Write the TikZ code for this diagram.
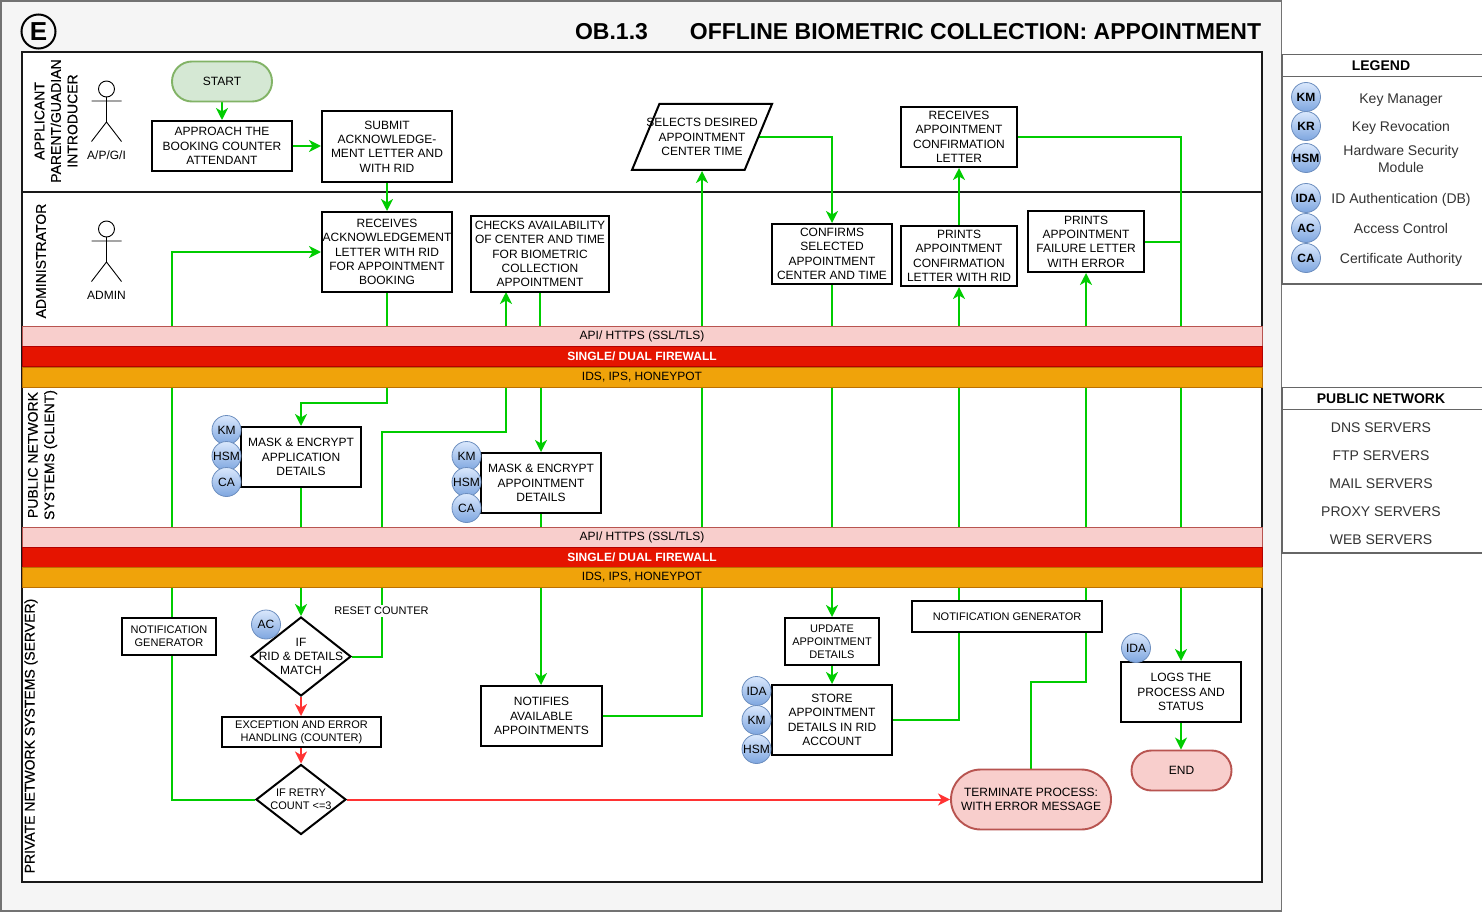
\documentclass[tikz,border=0pt]{standalone}
\usepackage{fontspec}
\setmainfont{Liberation Sans}
\newfontfamily\lanefont[FakeBold=0.3]{Liberation Sans}
\usetikzlibrary{arrows.meta,shapes.geometric,calc}
\pgfdeclarelayer{under}
\pgfdeclarelayer{links}
\pgfsetlayers{under,links,main}
\definecolor{flowg}{HTML}{00CC00}
\definecolor{flowr}{HTML}{FF3333}
\definecolor{secstroke}{HTML}{6C8EBF}
\definecolor{sectop}{HTML}{DAE8FC}
\definecolor{secbot}{HTML}{7EA6E0}
\definecolor{pinkfill}{HTML}{F8CECC}
\definecolor{pinkline}{HTML}{B85450}
\definecolor{redfill}{HTML}{E51400}
\definecolor{redline}{HTML}{B20000}
\definecolor{orafill}{HTML}{F0A30A}
\definecolor{oraline}{HTML}{BD7000}
\definecolor{grnfill}{HTML}{D5E8D4}
\definecolor{grnline}{HTML}{82B366}
\newcommand{\bt}[1]{\raisebox{-.7pt}{#1}}
\tikzset{
  x=1pt,y=-1pt,
  txt/.style={font=\fontsize{12}{14.4}\selectfont,align=center,text=black,inner sep=0pt},
  smalltxt/.style={font=\fontsize{11}{13}\selectfont},
  bx/.style={txt,draw=black,line width=2pt,fill=white},
  pill/.style={txt,line width=1.9pt},
  dia/.style={shape=diamond,draw=black,line width=2pt,fill=white,inner sep=0pt},
  sec/.style={shape=circle,minimum size=29pt,inner sep=0pt,draw=secstroke,line width=.8pt,top color=sectop,bottom color=secbot,font=\fontsize{12}{14}\selectfont,text=black},
  secb/.style={sec,font=\bfseries\fontsize{12}{14}\selectfont},
  flow/.style={draw=flowg,line width=2pt,-{Stealth[length=12pt,width=12pt,inset=3.5pt]}},
  flowp/.style={draw=flowg,line width=2pt},
  redf/.style={draw=flowr,line width=2pt,-{Stealth[length=12pt,width=12pt,inset=3.5pt]}},
  band/.style={shape=rectangle,minimum width=1240pt,minimum height=20pt,inner sep=0pt,line width=.9pt,font=\fontsize{12}{14}\selectfont},
  bandp/.style={band,draw=pinkline,fill=pinkfill},
  bandr/.style={band,draw=redline,fill=redfill,text=white,font=\bfseries\fontsize{12}{14}\selectfont},
  bando/.style={band,draw=oraline,fill=orafill},
  lane/.style={rotate=90,font=\lanefont\fontsize{14}{16.5}\selectfont,align=center,inner sep=0pt,text=black},
  actor/.style={draw=black,line width=.9pt},
  leg/.style={font=\fontsize{14}{17}\selectfont,align=center,text=black!80,inner sep=0pt},
  legh/.style={font=\bfseries\fontsize{14}{17}\selectfont,inner sep=0pt},
  panel/.style={draw=black!60,line width=1.4pt,fill=white},
}
\newcommand{\bxn}[7][]{%
  \pgfmathsetmacro\cxx{(#3+#5)/2}\pgfmathsetmacro\cyy{(#4+#6)/2}%
  \pgfmathsetmacro\ww{#5-#3}\pgfmathsetmacro\hh{#6-#4}%
  \node[bx,#1,minimum width=\ww pt,minimum height=\hh pt] (#2) at (\cxx,\cyy) {#7};}
\begin{document}
\begin{tikzpicture}
\useasboundingbox (0,0) rectangle (1482,912);
\begin{pgfonlayer}{under}
\fill[white] (0,0) rectangle (1482,912);
\draw[draw=black!55,line width=1.6pt,fill=black!4] (1,1) rectangle (1281.5,911);
\draw[black!90,line width=2pt,fill=white] (22,52) rectangle (1262,882);
\draw[black!90,line width=2pt] (22,192) -- (1262,192);
\end{pgfonlayer}

% header
\node[shape=circle,draw=black,line width=2pt,minimum size=34pt,inner sep=0pt,font=\bfseries\fontsize{26}{26}\selectfont] (ecirc) at (38.5,31.5) {E};
\node[font=\bfseries\fontsize{23}{26}\selectfont,inner sep=0pt] (obno) at (611.5,31.5) {OB.1.3};
\node[font=\bfseries\fontsize{23}{26}\selectfont,inner sep=0pt] (obtitle) at (975.5,31.5) {OFFLINE BIOMETRIC COLLECTION: APPOINTMENT};

% lane labels
\node[lane] (laneA) at (56,121) {APPLICANT\\PARENT/GUADIAN\\INTRODUCER};
\node[lane] (laneB) at (41,261) {ADMINISTRATOR};
\node[lane] (laneC) at (42.5,455) {PUBLIC NETWORK\\SYSTEMS (CLIENT)};
\node[lane] (laneD) at (31,736) {PRIVATE NETWORK SYSTEMS (SERVER)};

% actors
\draw[actor] (106.5,89) circle (8);
\draw[actor] (91.5,101) -- (121.5,101) (106.5,97) -- (106.5,122) (91.5,141.5) -- (106.5,122) -- (121.5,141.5);
\node[txt] (actA) at (106.5,155) {A/P/G/I};
\draw[actor] (106.5,229) circle (8);
\draw[actor] (91.5,241) -- (121.5,241) (106.5,237) -- (106.5,262) (91.5,281.5) -- (106.5,262) -- (121.5,281.5);
\node[txt] (actB) at (106.5,295) {ADMIN};

% bands
\node[bandp] (b1) at (642,336) {\bt{API/ HTTPS (SSL/TLS)}};
\node[bandr] (b2) at (642,356.5) {SINGLE/ DUAL FIREWALL};
\node[bando] (b3) at (642,377) {IDS, IPS, HONEYPOT};
\node[bandp] (b4) at (642,537) {\bt{API/ HTTPS (SSL/TLS)}};
\node[bandr] (b5) at (642,557.5) {\bt{SINGLE/ DUAL FIREWALL}};
\node[bando] (b6) at (642,577.5) {\bt{IDS, IPS, HONEYPOT}};

% process nodes
\node[pill,draw=grnline,fill=grnfill,minimum width=100pt,minimum height=40pt,rounded corners=19.9pt] (start) at (222,81.5) {START};
\bxn{appr}{152}{121}{292}{171}{APPROACH THE\\BOOKING COUNTER\\ATTENDANT}
\bxn{subm}{322}{111}{452}{182}{SUBMIT\\ACKNOWLEDGE-\\MENT LETTER AND\\WITH RID}
\bxn{rcv}{322}{212}{452}{292}{RECEIVES\\ACKNOWLEDGEMENT\\LETTER WITH RID\\FOR APPOINTMENT\\BOOKING}
\bxn{chk}{471}{216}{609}{292}{CHECKS AVAILABILITY\\OF CENTER AND TIME\\FOR BIOMETRIC\\COLLECTION\\APPOINTMENT}
\node[shape=trapezium,trapezium left angle=73.1,trapezium right angle=106.9,trapezium stretches=true,draw=black,line width=2pt,fill=white,minimum width=140pt,minimum height=66pt,inner sep=0pt,label={[txt]center:SELECTS DESIRED\\APPOINTMENT\\CENTER TIME}] (sel) at (702,137) {\phantom{x}};
\bxn{conf}{772}{224}{892}{284}{CONFIRMS\\SELECTED\\APPOINTMENT\\CENTER AND TIME}
\bxn{rconf}{901}{107}{1017}{167}{RECEIVES\\APPOINTMENT\\CONFIRMATION\\LETTER}
\bxn{pconf}{901}{226}{1017}{286}{PRINTS\\APPOINTMENT\\CONFIRMATION\\LETTER WITH RID}
\bxn{fail}{1028}{211}{1144}{272}{PRINTS\\APPOINTMENT\\FAILURE LETTER\\WITH ERROR}
\bxn{mone}{241}{427}{361}{487}{MASK \& ENCRYPT\\APPLICATION\\DETAILS}
\bxn{mtwo}{481}{453}{601}{513}{MASK \& ENCRYPT\\APPOINTMENT\\DETAILS}
\bxn[smalltxt]{ngl}{122}{618}{216}{655}{NOTIFICATION\\GENERATOR}
\node[dia,minimum width=100pt,minimum height=79pt,label={[txt]center:IF\\RID \& DETAILS\\MATCH}] (ifm) at (301,656.5) {\phantom{x}};
\bxn[smalltxt]{exc}{222}{717}{381}{747}{EXCEPTION AND ERROR\\HANDLING (COUNTER)}
\node[dia,minimum width=90pt,minimum height=70pt,label={[txt,smalltxt]center:IF RETRY\\COUNT <=3}] (ret) at (301,799.5) {\phantom{x}};
\bxn{noti}{481}{686}{602}{746}{NOTIFIES\\AVAILABLE\\APPOINTMENTS}
\bxn[smalltxt]{upd}{785}{618}{879}{665}{UPDATE\\APPOINTMENT\\DETAILS}
\bxn{stor}{772}{685}{892}{755}{STORE\\APPOINTMENT\\DETAILS IN RID\\ACCOUNT}
\bxn[smalltxt]{ngr}{912}{601}{1102}{632}{NOTIFICATION GENERATOR}
\bxn{logs}{1121}{662}{1241}{722}{LOGS THE\\PROCESS AND\\STATUS}
\node[pill,draw=pinkline,fill=pinkfill,minimum width=100pt,minimum height=40pt,rounded corners=19.9pt] (endn) at (1181.5,770.5) {END};
\node[pill,draw=pinkline,fill=pinkfill,minimum width=160pt,minimum height=60pt,rounded corners=29.9pt] (term) at (1031,799.5) {TERMINATE PROCESS:\\WITH ERROR MESSAGE};
\node[txt,smalltxt,fill=white,inner xsep=1pt,inner ysep=2pt] (reset) at (381.5,611) {RESET COUNTER};

% security badges
\node[sec] (s1) at (226.5,430) {KM};
\node[sec] (s2) at (226.5,456) {HSM};
\node[sec] (s3) at (226.5,482) {CA};
\node[sec] (s4) at (466.5,456) {KM};
\node[sec] (s5) at (466.5,482) {HSM};
\node[sec] (s6) at (466.5,508) {CA};
\node[sec] (s7) at (266,624.5) {AC};
\node[sec] (s8) at (756.5,691) {IDA};
\node[sec] (s9) at (756.5,720) {KM};
\node[sec] (s10) at (756.5,749) {HSM};
\node[sec] (s11) at (1136,648) {IDA};

% legend
\draw[panel] (1282,54.5) rectangle (1490,284);
\draw[draw=black!60,line width=1.4pt] (1282,76.5) -- (1490,76.5);
\node[legh] (lhead) at (1381,65.5) {LEGEND};
\node[secb] (l1) at (1306,97) {KM};
\node[secb] (l2) at (1306,126) {KR};
\node[secb] (l3) at (1306,158) {HSM};
\node[secb] (l4) at (1306,198) {IDA};
\node[secb] (l5) at (1306,228) {AC};
\node[secb] (l6) at (1306,258) {CA};
\node[leg] (t1) at (1401,100) {Key Manager};
\node[leg] (t2) at (1401,127.5) {Key Revocation};
\node[leg] (t3) at (1401,159) {Hardware Security\\Module};
\node[leg] (t4) at (1401,199.5) {ID Authentication (DB)};
\node[leg] (t5) at (1401,228.5) {Access Control};
\node[leg] (t6) at (1401,259.5) {Certificate Authority};

% public network panel
\draw[panel] (1282,387.5) rectangle (1490,553);
\draw[draw=black!60,line width=1.4pt] (1282,409.5) -- (1490,409.5);
\node[legh] (phead) at (1381,399) {PUBLIC NETWORK};
\node[leg] (p1) at (1381,428) {DNS SERVERS};
\node[leg] (p2) at (1381,456) {FTP SERVERS};
\node[leg] (p3) at (1381,484) {MAIL SERVERS};
\node[leg] (p4) at (1381,512) {PROXY SERVERS};
\node[leg] (p5) at (1381,540) {WEB SERVERS};

% connectors
\coordinate (ca) at (382,432);
\coordinate (chkin) at (506,292);
\coordinate (cb2) at (172,252);
\begin{pgfonlayer}{links}
\draw[flow] (start.south) -- (appr.north -| start.south);
\draw[flow] (appr.east) -- (appr.east -| subm.west);
\draw[flow] (subm.south) -- (rcv.north);
\draw[flow] (ret.west) -| (cb2) -- (rcv.west);
\draw[flow] (rcv.south) -- ++(0,110) -| (mone.north);
\draw[flow] (mone.south) -- (ifm.north);
\draw[flow] (ifm.east) -| (ca) -| (chkin);
\draw[flow] (chk.south) -- ++(0,60) -| (mtwo.north);
\draw[flow] (mtwo.south) -- (noti.north -| mtwo.south);
\draw[flow] (noti.east) -| (sel.south);
\draw[flow] (sel.east) -| (conf.north);
\draw[flow] (conf.south) -- (upd.north);
\draw[flow] (upd.south) -- (stor.north);
\draw[flow] (stor.east) -| (pconf.south);
\draw[flow] (pconf.north) -- (rconf.south);
\draw[flow] (rconf.east) -| (logs.north);
\draw[flowp] (fail.east) -- (fail.east -| logs.north);
\draw[flow] (term.north) -- ++(0,-87) -| (fail.south);
\draw[flow] (logs.south) -- (endn.north -| logs.south);
\draw[redf] (ifm.south) -- (exc.north -| ifm.south);
\draw[redf] (exc.south -| ret.north) -- (ret.north);
\draw[redf] (ret.east) -- (term.west |- ret.east);
\end{pgfonlayer}
\end{tikzpicture}
\end{document}
